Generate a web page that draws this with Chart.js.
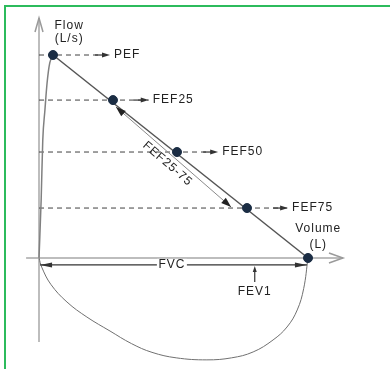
<!DOCTYPE html>
<html>
<head>
<meta charset="utf-8">
<script src="https://cdn.jsdelivr.net/npm/chart.js@4.4.0/dist/chart.umd.min.js"></script>
<style>
  html, body { margin: 0; padding: 0; background: #fff; }
  #wrap { position: relative; width: 390px; height: 369px; overflow: hidden; }
  #frame { position: absolute; left: 4px; top: 5px; width: 500px; height: 500px;
           border-left: 2px solid #2cbb5c; border-top: 2px solid #2cbb5c; }
  #loop { position: absolute; left: 0; top: 0; }
</style>
</head>
<body>
<div id="wrap">
  <div id="frame"></div>
  <canvas id="loop" width="390" height="369"></canvas>
</div>
<script>
// expiratory upstroke (volume L, flow L/s)
const riseVolume = [0, 0.04, 0.07, 0.11, 0.15, 0.20, 0.26];
const riseFlow = [0, 2.86, 5.81, 7.29, 8.62, 9.61, 10.0];

// inspiratory limb
const inspVolume = [0, 0.05, 0.22, 0.52, 0.89, 1.32, 1.72, 2.10, 2.55, 3.12, 3.58, 3.98, 4.35, 4.61, 4.80, 4.92, 5.0];
const inspFlow = [0, -0.45, -1.30, -2.17, -2.91, -3.60, -4.22, -4.65, -4.92, -5.02, -4.92, -4.63, -4.04, -3.40, -2.56, -1.50, 0];

// marked points on the expiratory line
const markerNames = ['PEF', 'FEF25', 'FEF50', 'FEF75'];
const markerVolume = [0.26, 1.375, 2.565, 3.866];
const markerFlow = [10.0, 7.78, 5.22, 2.46];
const fvc = 5.0;

// where the dashed guide arrows end
const guideEndVolume = [1.32, 2.04, 3.33, 4.63];

// other annotations
const fef2575Start = [1.43, 7.44];
const fef2575End = [3.57, 2.51];
const fvcArrowFlow = -0.34;
const fev1Volume = 4.01;
const fev1Flow = [-1.18, -0.39];
const axisVolume = [-0.24, 5.65];
const axisFlow = [-4.14, 11.82];

const FONT = '12px "Liberation Sans", Arial, sans-serif';
const INK = '#222';

function headAt(ctx, x1, y1, x2, y2, len, half) {
    const a = Math.atan2(y2 - y1, x2 - x1);
    ctx.beginPath();
    ctx.moveTo(x2, y2);
    ctx.lineTo(x2 - len * Math.cos(a) + half * Math.sin(a), y2 - len * Math.sin(a) - half * Math.cos(a));
    ctx.lineTo(x2 - len * Math.cos(a) - half * Math.sin(a), y2 - len * Math.sin(a) + half * Math.cos(a));
    ctx.closePath();
    ctx.fill();
}

function openHead(ctx, x1, y1, x2, y2, len, half) {
    const a = Math.atan2(y2 - y1, x2 - x1);
    ctx.beginPath();
    ctx.moveTo(x2 - len * Math.cos(a) + half * Math.sin(a), y2 - len * Math.sin(a) - half * Math.cos(a));
    ctx.lineTo(x2, y2);
    ctx.lineTo(x2 - len * Math.cos(a) - half * Math.sin(a), y2 - len * Math.sin(a) + half * Math.cos(a));
    ctx.stroke();
}

function label(ctx, text, x, y, align) {
    ctx.save();
    ctx.font = FONT;
    ctx.letterSpacing = '1px';
    ctx.fillStyle = INK;
    ctx.textAlign = align || 'center';
    ctx.textBaseline = 'middle';
    ctx.fillText(text, x, y);
    ctx.restore();
}

const diagram = {
    id: 'diagram',
    beforeDatasetsDraw(chart) {
        const ctx = chart.ctx;
        const sx = chart.scales.x, sy = chart.scales.y;
        const x0 = sx.getPixelForValue(0), y0 = sy.getPixelForValue(0);
        ctx.save();
        ctx.strokeStyle = '#bdbdbd';
        ctx.lineWidth = 2;
        // flow axis
        const yTop = sy.getPixelForValue(axisFlow[1]);
        ctx.beginPath();
        ctx.moveTo(x0, sy.getPixelForValue(axisFlow[0]));
        ctx.lineTo(x0, yTop);
        ctx.stroke();
        // volume axis
        const xRight = sx.getPixelForValue(axisVolume[1]);
        ctx.beginPath();
        ctx.moveTo(sx.getPixelForValue(axisVolume[0]), y0);
        ctx.lineTo(xRight, y0);
        ctx.stroke();
        ctx.strokeStyle = '#9a9a9a';
        ctx.lineWidth = 1.5;
        openHead(ctx, x0, yTop + 20, x0, yTop, 14, 4);
        openHead(ctx, xRight - 20, y0, xRight, y0, 14, 5);
        ctx.restore();
    },
    afterDatasetsDraw(chart) {
        const ctx = chart.ctx;
        const sx = chart.scales.x, sy = chart.scales.y;
        ctx.save();
        ctx.fillStyle = '#333';
        ctx.strokeStyle = '#333';
        ctx.lineWidth = 1.2;

        // guide arrows and their labels
        markerNames.forEach((name, i) => {
            const ex = sx.getPixelForValue(guideEndVolume[i]);
            const ey = sy.getPixelForValue(markerFlow[i]);
            ctx.beginPath();
            ctx.moveTo(ex - 15, ey);
            ctx.lineTo(ex - 6, ey);
            ctx.stroke();
            headAt(ctx, ex - 10, ey, ex, ey, 8, 2.5);
            label(ctx, name, ex + 4, ey, 'left');
        });

        // FEF25-75 double arrow
        const ax = sx.getPixelForValue(fef2575Start[0]), ay = sy.getPixelForValue(fef2575Start[1]);
        const bx = sx.getPixelForValue(fef2575End[0]), by = sy.getPixelForValue(fef2575End[1]);
        ctx.save();
        ctx.strokeStyle = '#8a8a8a';
        ctx.lineWidth = 1;
        ctx.beginPath();
        ctx.moveTo(ax, ay);
        ctx.lineTo(bx, by);
        ctx.stroke();
        ctx.restore();
        ctx.fillStyle = '#222';
        headAt(ctx, bx, by, ax, ay, 10, 3.5);
        headAt(ctx, ax, ay, bx, by, 10, 3.5);
        const ang = Math.atan2(by - ay, bx - ax);
        ctx.save();
        ctx.translate((ax + bx) / 2 - 9 * Math.sin(ang), (ay + by) / 2 + 9 * Math.cos(ang));
        ctx.rotate(ang);
        label(ctx, 'FEF25-75', 0, 0);
        ctx.restore();

        // FVC double arrow
        const fy = sy.getPixelForValue(fvcArrowFlow);
        const f1 = sx.getPixelForValue(0.02), f2 = sx.getPixelForValue(fvc - 0.02);
        ctx.fillStyle = '#333';
        ctx.beginPath();
        ctx.moveTo(f1, fy);
        ctx.lineTo(f2, fy);
        ctx.stroke();
        headAt(ctx, f2, fy, f1, fy, 12, 2.5);
        headAt(ctx, f1, fy, f2, fy, 12, 2.5);
        const fvcX = sx.getPixelForValue(fvc / 2 - 0.03);
        ctx.fillStyle = '#fff';
        ctx.fillRect(fvcX - 15, fy - 6, 30, 12);
        label(ctx, 'FVC', fvcX, fy);

        // FEV1 pointer
        const vx = sx.getPixelForValue(fev1Volume);
        const vy1 = sy.getPixelForValue(fev1Flow[0]), vy2 = sy.getPixelForValue(fev1Flow[1]);
        ctx.fillStyle = '#333';
        ctx.beginPath();
        ctx.moveTo(vx, vy1);
        ctx.lineTo(vx, vy2 + 4);
        ctx.stroke();
        headAt(ctx, vx, vy1, vx, vy2, 6, 2);
        label(ctx, 'FEV1', vx, sy.getPixelForValue(-1.67));

        // axis titles
        const tx = sx.getPixelForValue(0.56);
        label(ctx, 'Flow', tx, sy.getPixelForValue(11.43));
        label(ctx, '(L/s)', tx, sy.getPixelForValue(10.79));
        const vxl = sx.getPixelForValue(5.19);
        label(ctx, 'Volume', vxl, sy.getPixelForValue(1.43));
        label(ctx, '(L)', vxl, sy.getPixelForValue(0.64));
        ctx.restore();
    }
};

const pts = (xs, ys) => xs.map((x, i) => ({ x: x, y: ys[i] }));

const guideSets = markerNames.map((name, i) => ({
    label: name + ' guide',
    data: [{ x: 0, y: markerFlow[i] }, { x: guideEndVolume[i], y: markerFlow[i] }],
    borderColor: '#404040',
    borderWidth: 1,
    borderDash: [5, 4],
    pointRadius: 0,
    order: 5
}));

new Chart(document.getElementById('loop'), {
    type: 'line',
    data: {
        datasets: [
            {
                label: 'markers',
                data: pts(markerVolume.concat([fvc]), markerFlow.concat([0])),
                showLine: false,
                pointRadius: 4.5,
                pointBackgroundColor: '#1b2d44',
                pointBorderColor: '#1b2d44',
                order: 0
            },
            {
                label: 'expiration',
                data: [{ x: markerVolume[0], y: markerFlow[0] }, { x: fvc, y: 0 }],
                borderColor: '#555',
                borderWidth: 1.5,
                pointRadius: 0,
                order: 2
            },
            {
                label: 'upstroke',
                data: pts(riseVolume, riseFlow),
                borderColor: '#808080',
                borderWidth: 1.5,
                pointRadius: 0,
                cubicInterpolationMode: 'monotone',
                order: 3
            },
            {
                label: 'inspiration',
                data: pts(inspVolume, inspFlow),
                borderColor: '#707070',
                borderWidth: 1,
                pointRadius: 0,
                tension: 0.4,
                order: 3
            }
        ].concat(guideSets)
    },
    options: {
        responsive: false,
        devicePixelRatio: 1,
        animation: false,
        layout: { padding: 0, autoPadding: false },
        plugins: { legend: { display: false }, tooltip: { enabled: false } },
        scales: {
            x: { type: 'linear', display: false, min: -0.725, max: 6.524 },
            y: { type: 'linear', display: false, min: -5.47, max: 12.71 }
        }
    },
    plugins: [diagram]
});
</script>
</body>
</html>
